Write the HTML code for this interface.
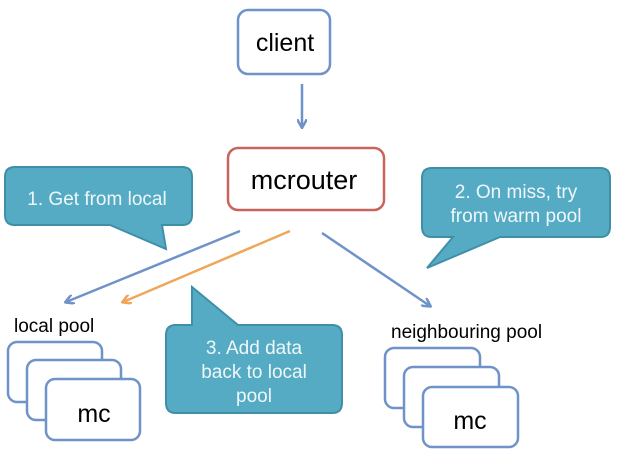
<!DOCTYPE html>
<html><head><style>
body{margin:0;background:#fff}
svg{display:block}
text{font-family:"Liberation Sans",sans-serif}
</style></head><body>
<svg width="617" height="454" viewBox="0 0 617 454" xmlns="http://www.w3.org/2000/svg">
<defs>
<marker id="ab" markerWidth="10" markerHeight="10" refX="8" refY="5" orient="auto" markerUnits="userSpaceOnUse"><path d="M0,0 L9,5 L0,10" fill="none" stroke="#6f93c8" stroke-width="2.5"/></marker>
<marker id="ao" markerWidth="10" markerHeight="10" refX="8" refY="5" orient="auto" markerUnits="userSpaceOnUse"><path d="M0,0 L9,5 L0,10" fill="none" stroke="#eea75a" stroke-width="2.5"/></marker>
</defs>
<rect x="238" y="10" width="92" height="64" rx="10" fill="#fff" stroke="#6f93c8" stroke-width="2.5"/>
<text x="285" y="51" font-size="25" text-anchor="middle">client</text>
<line x1="302" y1="84" x2="302" y2="127" stroke="#6f93c8" stroke-width="2.5" marker-end="url(#ab)"/>
<rect x="228" y="148" width="156" height="62" rx="10" fill="#fff" stroke="#c9645c" stroke-width="2.5"/>
<text x="304" y="189" font-size="27" text-anchor="middle">mcrouter</text>

<path d="M15,167 H182 Q192,167 192,177 V215 Q192,225 182,225 H162 L166,249 L110,225 H15 Q5,225 5,215 V177 Q5,167 15,167Z" fill="#56abc4" stroke="#3f8fa8" stroke-width="2"/>
<text x="97" y="205" font-size="19" fill="#eef7fa" text-anchor="middle">1. Get from local</text>

<path d="M432,168 H600 Q610,168 610,178 V227 Q610,237 600,237 H500 L427,268 L453,237 H432 Q422,237 422,227 V178 Q422,168 432,168Z" fill="#56abc4" stroke="#3f8fa8" stroke-width="2"/>
<text x="516" y="198" font-size="19" fill="#eef7fa" text-anchor="middle">2. On miss, try</text>
<text x="516" y="222" font-size="19" fill="#eef7fa" text-anchor="middle">from warm pool</text>

<path d="M176,325 H192 L192,287 L238,325 H332 Q342,325 342,335 V403 Q342,413 332,413 H176 Q166,413 166,403 V335 Q166,325 176,325Z" fill="#56abc4" stroke="#3f8fa8" stroke-width="2"/>
<text x="254" y="354" font-size="19" fill="#eef7fa" text-anchor="middle">3. Add data</text>
<text x="254" y="378" font-size="19" fill="#eef7fa" text-anchor="middle">back to local</text>
<text x="254" y="402" font-size="19" fill="#eef7fa" text-anchor="middle">pool</text>

<line x1="240" y1="231" x2="66" y2="302" stroke="#6f93c8" stroke-width="2.5" marker-end="url(#ab)"/>
<line x1="290" y1="231" x2="123" y2="302" stroke="#eea75a" stroke-width="2.5" marker-end="url(#ao)"/>
<line x1="322" y1="233" x2="430" y2="306" stroke="#6f93c8" stroke-width="2.5" marker-end="url(#ab)"/>

<text x="14" y="332" font-size="19">local pool</text>
<rect x="8" y="342" width="94" height="60" rx="9" fill="#fff" stroke="#6f93c8" stroke-width="2.5"/>
<rect x="27" y="360" width="94" height="60" rx="9" fill="#fff" stroke="#6f93c8" stroke-width="2.5"/>
<rect x="46" y="379" width="94" height="61" rx="9" fill="#fff" stroke="#6f93c8" stroke-width="2.5"/>
<text x="94" y="422" font-size="25" text-anchor="middle">mc</text>

<text x="391" y="338" font-size="19">neighbouring pool</text>
<rect x="385" y="348" width="95" height="60" rx="9" fill="#fff" stroke="#6f93c8" stroke-width="2.5"/>
<rect x="404" y="367" width="95" height="60" rx="9" fill="#fff" stroke="#6f93c8" stroke-width="2.5"/>
<rect x="423" y="387" width="95" height="60" rx="9" fill="#fff" stroke="#6f93c8" stroke-width="2.5"/>
<text x="470" y="429" font-size="25" text-anchor="middle">mc</text>
</svg>
</body></html>
